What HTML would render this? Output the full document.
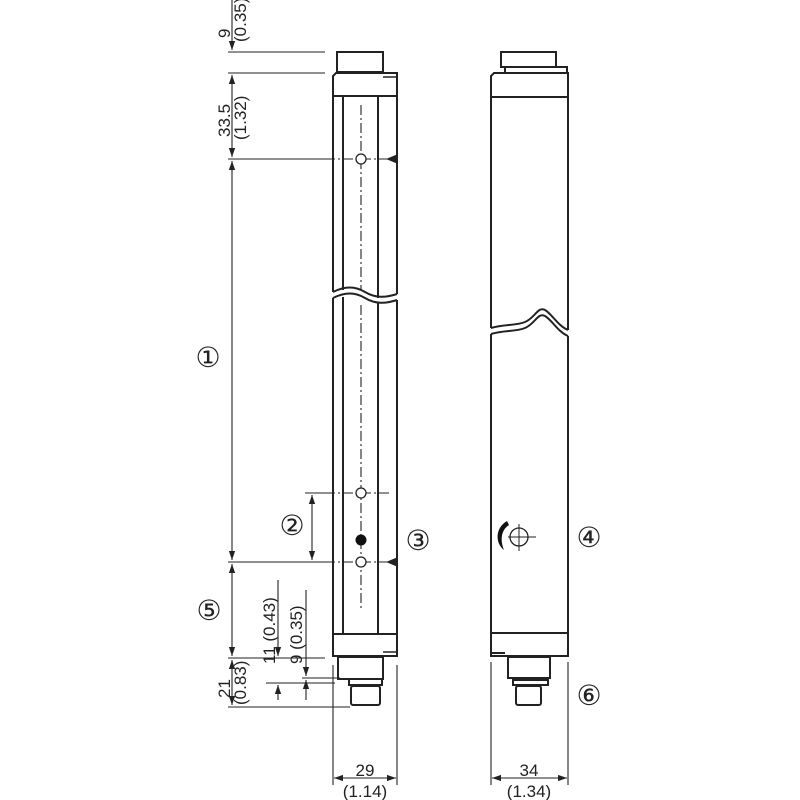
<!DOCTYPE html>
<html><head><style>body{margin:0;background:#fff}svg{display:block}text{font-family:"Liberation Sans",sans-serif;fill:#222}</style></head>
<body>
<svg width="800" height="800" viewBox="0 0 800 800" xmlns="http://www.w3.org/2000/svg">
<defs>
<marker id="a" viewBox="0 0 10 10" refX="10" refY="5" markerUnits="userSpaceOnUse" markerWidth="11" markerHeight="9" orient="auto-start-reverse"><path d="M0,1.5L10,5L0,8.5z" fill="#222"/></marker>
</defs>
<g stroke="#222" fill="none" stroke-width="1.1">
<line x1="232" y1="0" x2="232" y2="50" marker-end="url(#a)"/>
<line x1="232" y1="75" x2="232" y2="157" marker-start="url(#a)" marker-end="url(#a)"/>
<line x1="232" y1="161" x2="232" y2="560" marker-start="url(#a)" marker-end="url(#a)"/>
<line x1="232" y1="564" x2="232" y2="656" marker-start="url(#a)" marker-end="url(#a)"/>
<line x1="232" y1="660" x2="232" y2="705" marker-start="url(#a)" marker-end="url(#a)"/>
<line x1="228" y1="52" x2="325" y2="52"/>
<line x1="228" y1="73" x2="325" y2="73"/>
<line x1="228" y1="159" x2="325" y2="159"/>
<line x1="228" y1="562" x2="325" y2="562"/>
<line x1="228" y1="658" x2="325" y2="658"/>
<line x1="228" y1="707" x2="350" y2="707"/>
<line x1="305" y1="493" x2="325" y2="493"/>
<line x1="312" y1="495" x2="312" y2="560" marker-start="url(#a)" marker-end="url(#a)"/>
<line x1="278" y1="580" x2="278" y2="656" marker-end="url(#a)"/>
<line x1="278" y1="700" x2="278" y2="685" marker-end="url(#a)"/>
<line x1="306" y1="590" x2="306" y2="676" marker-end="url(#a)"/>
<line x1="306" y1="700" x2="306" y2="680" marker-end="url(#a)"/>
<line x1="302" y1="678" x2="340" y2="678"/>
<line x1="266" y1="683" x2="335" y2="683"/>
<g stroke-dasharray="10,3,2,3">
<line x1="361" y1="105" x2="361" y2="290"/>
<line x1="361" y1="305" x2="361" y2="610"/>
<line x1="325" y1="159" x2="392" y2="159"/>
<line x1="325" y1="493" x2="392" y2="493"/>
<line x1="325" y1="562" x2="392" y2="562"/>
</g>
</g>
<g fill="#222"><path d="M398,154L386,159L398,164z"/><path d="M398,557L386,562L398,567z"/></g>
<g stroke="#222" fill="none" stroke-width="2">
<rect x="337" y="52" width="46" height="20"/>
<path d="M333,292 L333,76 L336,73 L397,73 L397,294"/>
<line x1="383" y1="77" x2="397" y2="77" stroke-width="1.5"/>
<line x1="333" y1="96" x2="397" y2="96"/>
<line x1="343" y1="96" x2="343" y2="290"/>
<line x1="378" y1="96" x2="378" y2="298"/>
<path d="M333,292 C345,286 355,286 365,292 C375,298 385,298 397,294"/>
<path d="M333,298 C345,292 355,292 365,298 C375,304 385,304 397,300"/>
<path d="M333,298 L333,656 L397,656 L397,300"/>
<line x1="343" y1="297" x2="343" y2="634"/>
<line x1="378" y1="303" x2="378" y2="634"/>
<line x1="333" y1="634" x2="397" y2="634"/>
<line x1="383" y1="652" x2="397" y2="652" stroke-width="1.5"/>
<rect x="338" y="657" width="45" height="22"/>
<rect x="349" y="679" width="33" height="6"/>
<rect x="351" y="686" width="29" height="19" rx="2"/>
<circle cx="361" cy="159" r="5" fill="#fff" stroke-width="1.3"/>
<circle cx="361" cy="493" r="5" fill="#fff" stroke-width="1.3"/>
<circle cx="361" cy="562" r="5" fill="#fff" stroke-width="1.3"/>
</g>
<circle cx="361" cy="540" r="5.5" fill="#111"/>
<g stroke="#222" stroke-width="1.1" fill="none">
<line x1="333" y1="665" x2="333" y2="785"/><line x1="397" y1="665" x2="397" y2="785"/>
<line x1="334" y1="778" x2="396" y2="778" marker-start="url(#a)" marker-end="url(#a)"/>
<line x1="491" y1="662" x2="491" y2="785"/><line x1="568" y1="662" x2="568" y2="785"/>
<line x1="492" y1="778" x2="567" y2="778" marker-start="url(#a)" marker-end="url(#a)"/>
</g>
<g stroke="#222" fill="none" stroke-width="2">
<rect x="501" y="52" width="55" height="15"/>
<path d="M505,73 L505,67 L567,67 L567,73"/>
<path d="M491,328 L491,76 L494,73 L568,73 L568,330"/>
<line x1="491" y1="97" x2="568" y2="97"/>
<path d="M491,328 C505,324 515,326 525,322 C535,318 538,306 545,310 C552,314 558,326 568,330"/>
<path d="M491,334 C505,330 515,332 525,328 C535,324 538,312 545,316 C552,320 558,332 568,336"/>
<path d="M491,334 L491,656 L568,656 L568,336"/>
<line x1="491" y1="633" x2="568" y2="633"/>
<rect x="508" y="657" width="42" height="21"/>
<rect x="513" y="680" width="35" height="5"/>
<rect x="516" y="686" width="25" height="19" rx="2"/>
</g>
<line x1="491" y1="653" x2="505" y2="653" stroke="#222" stroke-width="2"/>
<circle cx="519" cy="537" r="9" stroke="#222" stroke-width="1.3" fill="none"/>
<g stroke="#222" stroke-width="1"><line x1="519" y1="524" x2="519" y2="551"/><line x1="508" y1="537" x2="536" y2="537"/></g>
<path d="M507,521 C495,528 495,543 504,550 C500,540 501,530 509,525z" fill="#111"/>
<g font-size="17">
<text transform="translate(230,38) rotate(-90)">9</text>
<text transform="translate(246,42) rotate(-90)">(0.35)</text>
<text transform="translate(230,137) rotate(-90)">33.5</text>
<text transform="translate(246,140) rotate(-90)">(1.32)</text>
<text transform="translate(230,698) rotate(-90)">21</text>
<text transform="translate(246,705) rotate(-90)">(0.83)</text>
<text transform="translate(275,664) rotate(-90)">11 (0.43)</text>
<text transform="translate(302,664) rotate(-90)">9 (0.35)</text>
<text x="365" y="776" text-anchor="middle">29</text>
<text x="365" y="797" text-anchor="middle">(1.14)</text>
<text x="529" y="776" text-anchor="middle">34</text>
<text x="529" y="797" text-anchor="middle">(1.34)</text>
</g>
<g font-size="28" text-anchor="middle">
<text x="208" y="367" style="font-family:'DejaVu Sans',sans-serif">①</text>
<text x="292" y="535" style="font-family:'DejaVu Sans',sans-serif">②</text>
<text x="418" y="550" style="font-family:'DejaVu Sans',sans-serif">③</text>
<text x="589" y="547" style="font-family:'DejaVu Sans',sans-serif">④</text>
<text x="209" y="620" style="font-family:'DejaVu Sans',sans-serif">⑤</text>
<text x="589" y="705" style="font-family:'DejaVu Sans',sans-serif">⑥</text>
</g>
</svg>
</body></html>
